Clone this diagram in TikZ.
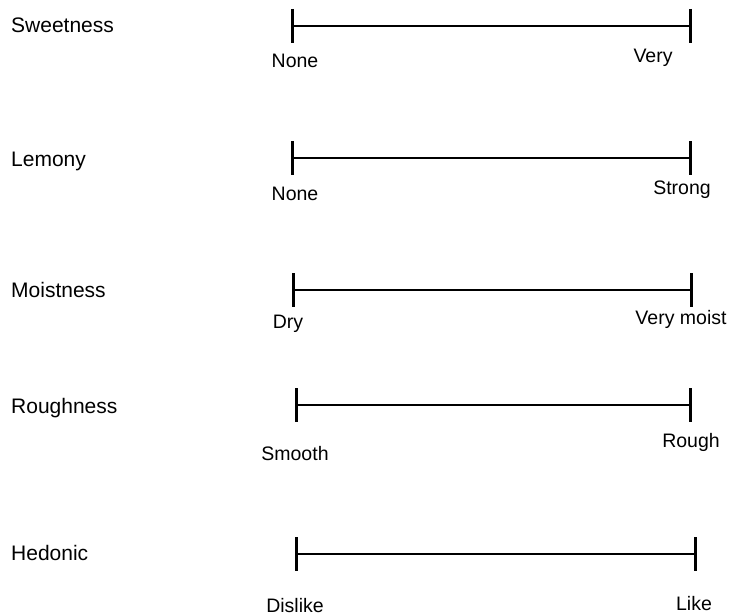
\documentclass[tikz,border=0pt]{standalone}
\usepackage{fontspec}
\setmainfont{Liberation Sans}
\begin{document}
\begin{tikzpicture}[x=1pt,y=-1pt,
  bar/.style={line width=2.8pt},
  tickline/.style={line width=3pt},
  attr/.style={anchor=base west,inner sep=0pt,font=\fontsize{21}{24}\selectfont},
  endlab/.style={anchor=base,inner sep=0pt,font=\fontsize{19.5}{23}\selectfont}]
\useasboundingbox (0,0) rectangle (738,615);
% row 1
\coordinate (L1) at (292,26); \coordinate (R1) at (690,26);
\node[attr] (a1) at (11,33) {Sweetness};
\node[endlab] (l1) at (295,68) {None};
\node[endlab] (r1) at (653,63) {Very};
% row 2
\coordinate (L2) at (292,158); \coordinate (R2) at (690,158);
\node[attr] (a2) at (11,166) {Lemony};
\node[endlab] (l2) at (295,200) {None};
\node[endlab] (r2) at (682,194) {Strong};
% row 3
\coordinate (L3) at (293,290); \coordinate (R3) at (691,290);
\node[attr] (a3) at (11,297) {Moistness};
\node[endlab] (l3) at (288,328) {Dry};
\node[endlab] (r3) at (681,324) {Very moist};
% row 4
\coordinate (L4) at (296,405); \coordinate (R4) at (690,405);
\node[attr] (a4) at (11,413) {Roughness};
\node[endlab] (l4) at (295,460) {Smooth};
\node[endlab] (r4) at (691,447) {Rough};
% row 5
\coordinate (L5) at (296,554); \coordinate (R5) at (695,554);
\node[attr] (a5) at (11,560) {Hedonic};
\node[endlab] (l5) at (295,612) {Dislike};
\node[endlab] (r5) at (694,610) {Like};
\foreach \i in {1,...,5}{
  \draw[bar] (L\i) -- (R\i);
  \draw[tickline] ([yshift=17pt]L\i) -- ([yshift=-17pt]L\i);
  \draw[tickline] ([yshift=17pt]R\i) -- ([yshift=-17pt]R\i);
}
\end{tikzpicture}
\end{document}
